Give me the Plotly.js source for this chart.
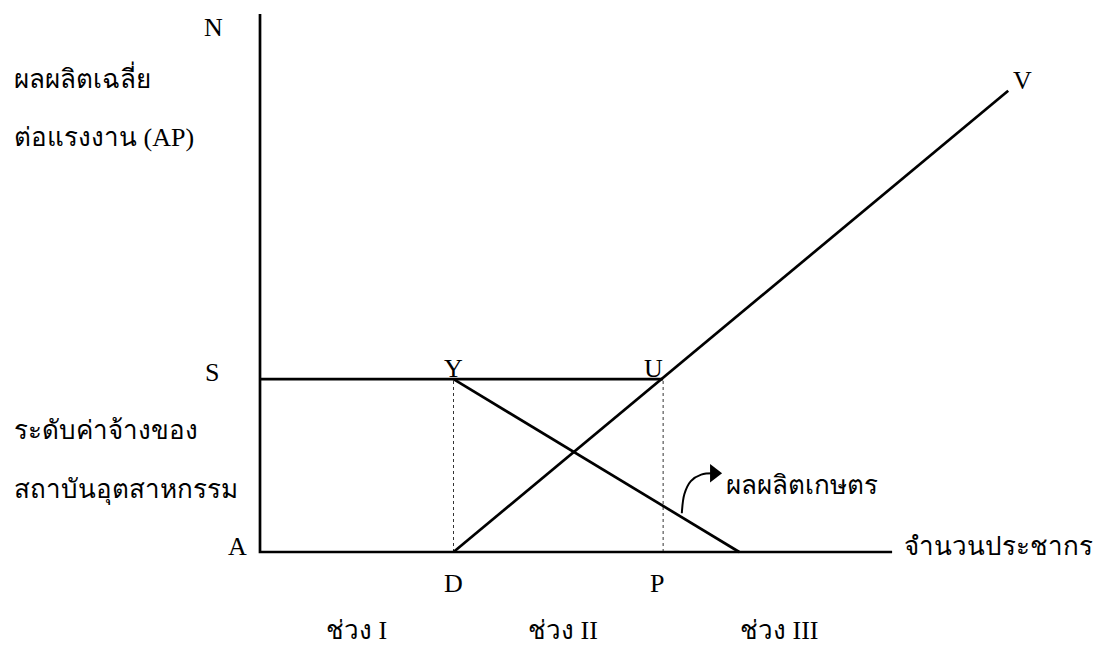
<!DOCTYPE html>
<html>
<head>
<meta charset="utf-8">
<script src="https://cdn.plot.ly/plotly-3.0.1.min.js"></script>
<style>
  html, body { margin: 0; padding: 0; background: #fff; }
  #chart { width: 1099px; height: 646px; }
</style>
</head>
<body>
<div id="chart"></div>
<script>
// values in chart units (population on x, average product on y)
const axisX = [0, 0, 9.8];
const axisY = [8.34, 0, 0];
const wageX = [0, 6.25];          // S ... U
const wageY = [2.68, 2.68];
const apX = [3.0, 11.6];          // D ... V
const apY = [0, 7.15];
const mpX = [3.0, 7.43];          // Y ... falls to the axis
const mpY = [2.68, 0];
const dropX = [3.0, 6.25];        // D and P
const arrowX = [6.54, 6.58, 6.68, 6.84, 7.04];
const arrowY = [0.6, 0.9, 1.1, 1.2, 1.22];

const stageLabels = ['ช่วง I', 'ช่วง II', 'ช่วง III'];
const stageX = [1.5, 4.7, 8.05];

const font = { family: '"Liberation Serif", "Times New Roman", serif', size: 26, color: '#000' };
const k = 64.5; // px per unit

const black = { color: '#000', width: 2.7 };
const dotted = { color: '#000', width: 0.8, dash: 'dot' };
const data = [
    { x: axisX, y: axisY, mode: 'lines', line: black },
    { x: wageX, y: wageY, mode: 'lines', line: black },
    { x: apX, y: apY, mode: 'lines', line: black },
    { x: mpX, y: mpY, mode: 'lines', line: black },
    { x: [dropX[0], dropX[0]], y: [0, wageY[0]], mode: 'lines', line: dotted },
    { x: [dropX[1], dropX[1]], y: [0, wageY[0]], mode: 'lines', line: dotted },
    { x: arrowX, y: arrowY, mode: 'lines', line: { color: '#000', width: 2, shape: 'spline' } },
    { x: [arrowX[arrowX.length - 1]], y: [arrowY[arrowY.length - 1]], mode: 'markers',
      marker: { symbol: 'triangle-right', size: 16, color: '#000' } }
];

function label(text, x, y, opts) {
    return Object.assign({ text: text, x: x, y: y, xref: 'x', yref: 'y', showarrow: false, font: font }, opts || {});
}

function leftText(text, top) {
    return { text: text, x: 12 / 1099, y: 1 - top / 646, xref: 'paper', yref: 'paper',
        xanchor: 'left', yanchor: 'middle', showarrow: false, font: font };
}

const annotations = [
    label('N', axisX[0], axisY[0], { xshift: -47, yshift: -13 }),
    label('S', 0, wageY[0], { xshift: -48, yshift: 7 }),
    label('Y', mpX[0], wageY[0], { yshift: 11 }),
    label('U', wageX[1], wageY[0], { xshift: -10, yshift: 11 }),
    label('A', 0, 0, { xshift: -23, yshift: 6 }),
    label('D', dropX[0], 0, { yshift: -31 }),
    label('P', dropX[1], 0, { xshift: -6, yshift: -31 }),
    label('V', apX[1], apY[1], { xshift: 14, yshift: 10 }),
    label('จำนวนประชากร', axisX[2], 0, { xanchor: 'left', xshift: 10, yshift: 6 }),
    label('ผลผลิตเกษตร', arrowX[arrowX.length - 1], arrowY[arrowY.length - 1], { xanchor: 'left', xshift: 10, yshift: -12 }),
    leftText('ผลผลิตเฉลี่ย', 77),
    leftText('ต่อแรงงาน (AP)', 137),
    leftText('ระดับค่าจ้างของ', 430),
    leftText('สถาบันอุตสาหกรรม', 490)
];
stageLabels.forEach((s, i) => {
    annotations.push(label(s, stageX[i], 0, { yshift: -78 }));
});

const layout = {
    width: 1099,
    height: 646,
    margin: { l: 0, r: 0, t: 0, b: 0 },
    paper_bgcolor: '#fff',
    plot_bgcolor: '#fff',
    showlegend: false,
    xaxis: { range: [-260 / k, (1099 - 260) / k], visible: false, fixedrange: true },
    yaxis: { range: [-(646 - 552) / k, 552 / k], visible: false, fixedrange: true },
    annotations: annotations
};

Plotly.newPlot('chart', data, layout, { staticPlot: true });
</script>
</body>
</html>
